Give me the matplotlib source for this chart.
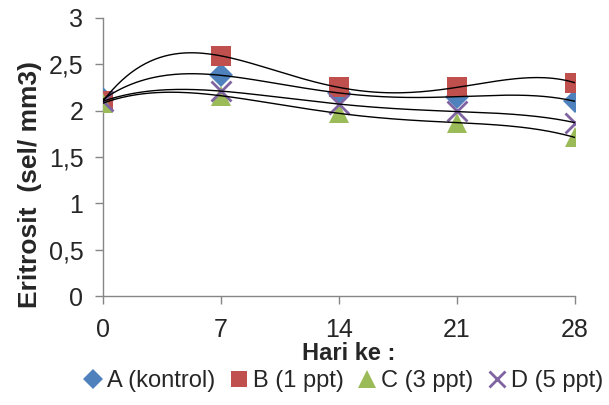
import numpy as np
import matplotlib
matplotlib.use("Agg")
import matplotlib.pyplot as plt

plt.rcParams["font.family"] = ["Liberation Sans", "DejaVu Sans"]

# ── data ────────────────────────────────────────────────────────────────────
days = [0, 7, 14, 21, 28]
a_kontrol = [2.12, 2.38, 2.19, 2.15, 2.10]
b_1ppt = [2.10, 2.59, 2.25, 2.25, 2.30]
c_3ppt = [2.08, 2.16, 1.97, 1.87, 1.71]
d_5ppt = [2.10, 2.21, 2.07, 1.99, 1.87]

series = [
    ("A (kontrol)", a_kontrol, "D", "#4F81BD", 12),
    ("B (1 ppt)", b_1ppt, "s", "#C0504D", 14),
    ("C (3 ppt)", c_3ppt, "^", "#9BBB59", 15),
    ("D (5 ppt)", d_5ppt, "x", "#8064A2", 14),
]

fig = plt.figure(figsize=(6.09, 4.05), dpi=100)
ax = fig.add_axes([0.169, 0.269, 0.775, 0.687])

x = np.array(days, dtype=float)
xs = np.linspace(0, 28, 200)
for label, vals, marker, color, ms in series:
    if marker == "x":
        ax.plot(days, vals, linestyle="none", marker=marker, markersize=ms,
                markeredgewidth=2, color=color, label=label, zorder=3)
    else:
        ax.plot(days, vals, linestyle="none", marker=marker, markersize=ms,
                markeredgewidth=0, color=color, label=label, zorder=3)

# polynomial trendlines (order 4), drawn above markers like Excel
for label, vals, marker, color, ms in series:
    coef = np.polyfit(x, np.array(vals), 4)
    ax.plot(xs, np.polyval(coef, xs), color="black", linewidth=1.0, zorder=4)

ax.set_xlim(0, 28)
ax.set_ylim(0, 3)
ax.set_xticks(days)
ax.set_yticks([0, 0.5, 1, 1.5, 2, 2.5, 3])
ax.set_yticklabels(["0", "0,5", "1", "1,5", "2", "2,5", "3"])

for side in ["top", "right"]:
    ax.spines[side].set_visible(False)
for side in ["left", "bottom"]:
    ax.spines[side].set_color("#868686")
    ax.spines[side].set_linewidth(1.0)
ax.tick_params(axis="both", colors="#868686", length=6, width=1.0,
               labelsize=18, labelcolor="#262626", direction="out")
ax.tick_params(axis="y", pad=8)
ax.tick_params(axis="x", pad=10)

ax.set_ylabel("Eritrosit  (sel/ mm3)", fontsize=19, fontweight="bold",
              color="#262626")
ax.yaxis.set_label_coords(-0.13, 0.40)
ax.set_xlabel("Hari ke :", fontsize=17, fontweight="bold", color="#262626")
ax.xaxis.set_label_coords(0.52, -0.165)

leg = fig.legend(loc="lower center", bbox_to_anchor=(0.56, -0.02), ncol=4,
                 frameon=False, fontsize=17, handletextpad=0.0,
                 columnspacing=0.4, handlelength=1.2, markerscale=0.85)
for t in leg.get_texts():
    t.set_color("#262626")

fig.savefig("out.png", dpi=100)
